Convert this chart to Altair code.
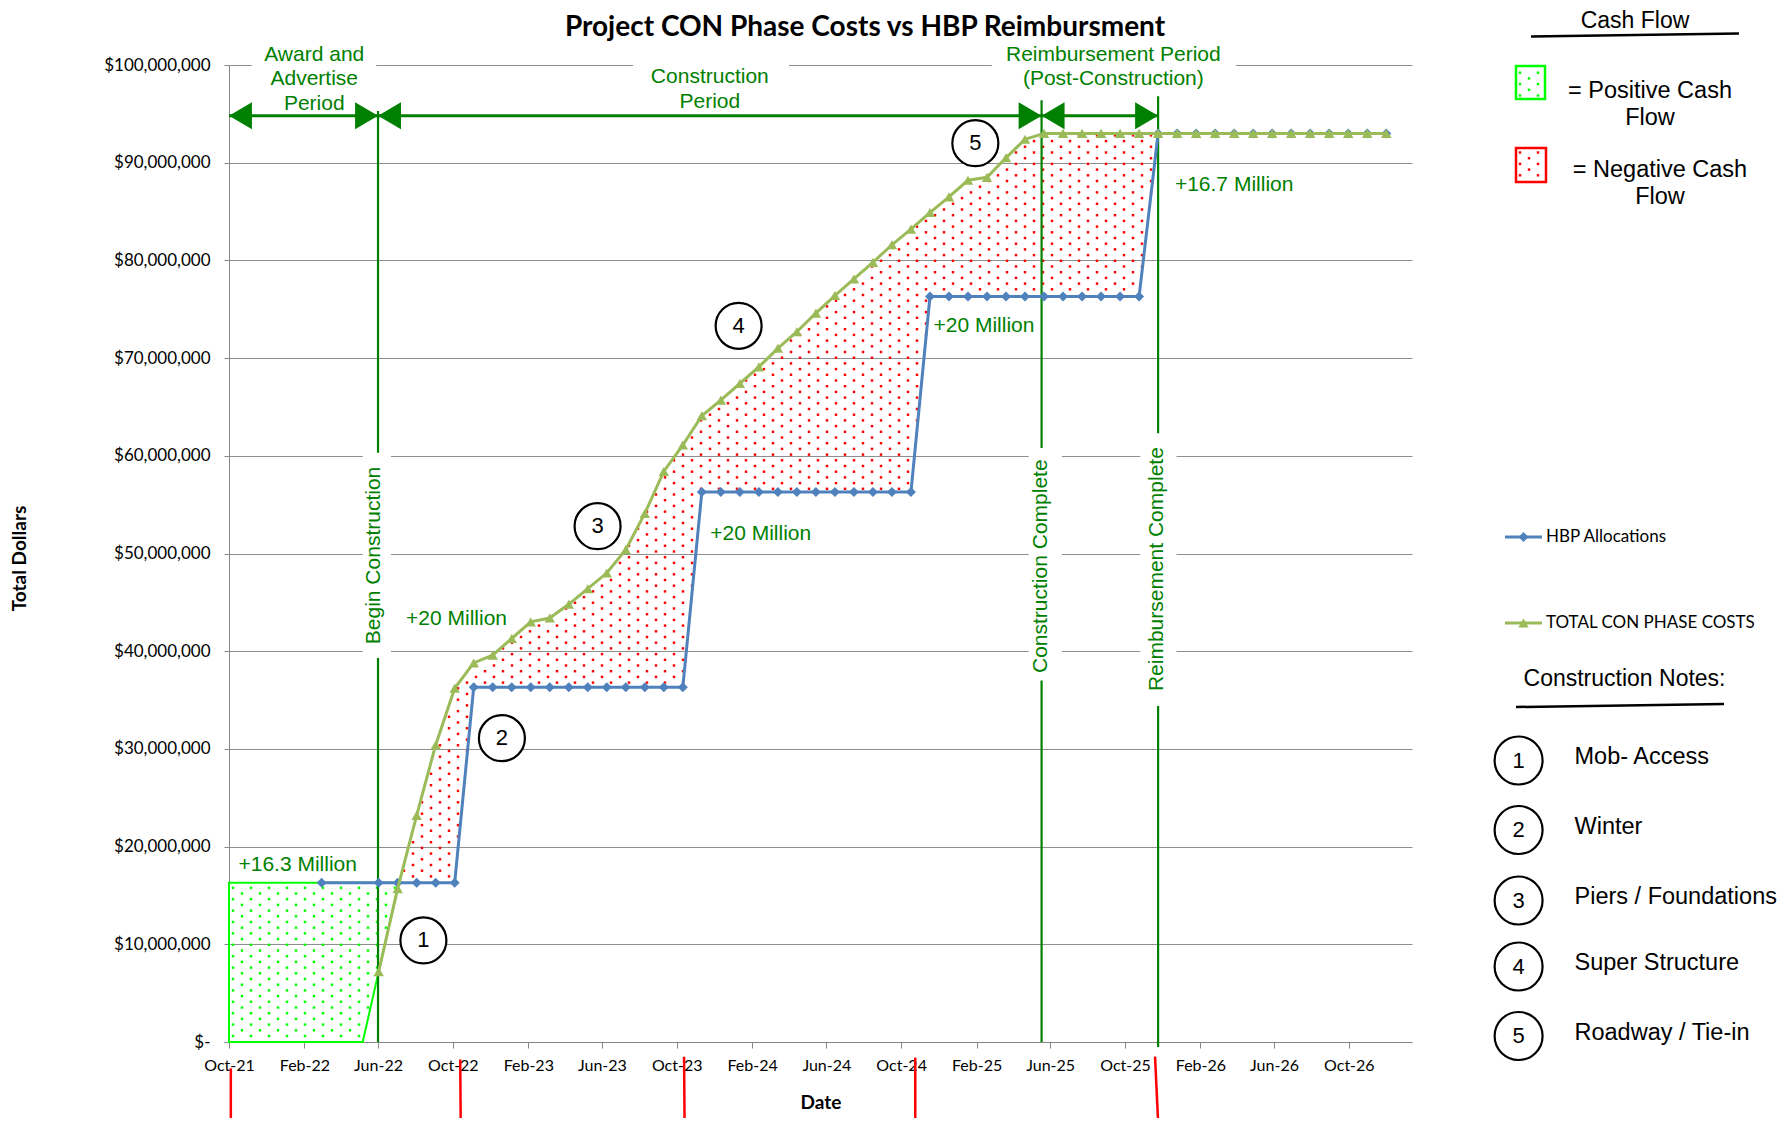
import altair as alt
import numpy as np
import pandas as pd

# ------------------------------------------------------------------ data
TITLE = "Project CON Phase Costs vs HBP Reimbursment"
X_TITLE = "Date"
Y_TITLE = "Total Dollars"
SERIES_NAMES = ["HBP Allocations", "TOTAL CON PHASE COSTS"]

AXIS_START = "2021-10-01"
AXIS_END = "2027-01-12"
X_TICKS = ["2021-10-01", "2022-02-01", "2022-06-01", "2022-10-01", "2023-02-01",
           "2023-06-01", "2023-10-01", "2024-02-01", "2024-06-01", "2024-10-01",
           "2025-02-01", "2025-06-01", "2025-10-01", "2026-02-01", "2026-06-01",
           "2026-10-01"]
Y_TICKS_M = [0, 10, 20, 30, 40, 50, 60, 70, 80, 90, 100]

POINT_DATES = [
    "2022-03-01", "2022-04-01", "2022-05-02", "2022-06-02", "2022-07-03", "2022-08-03",
    "2022-09-03", "2022-10-04", "2022-11-04", "2022-12-05", "2023-01-05", "2023-02-05",
    "2023-03-08", "2023-04-08", "2023-05-09", "2023-06-09", "2023-07-10", "2023-08-10",
    "2023-09-10", "2023-10-11", "2023-11-11", "2023-12-12", "2024-01-12", "2024-02-12",
    "2024-03-14", "2024-04-14", "2024-05-15", "2024-06-15", "2024-07-16", "2024-08-16",
    "2024-09-16", "2024-10-17", "2024-11-17", "2024-12-18", "2025-01-18", "2025-02-18",
    "2025-03-21", "2025-04-21", "2025-05-22", "2025-06-22", "2025-07-23", "2025-08-23",
    "2025-09-23", "2025-10-24", "2025-11-24", "2025-12-25", "2026-01-25", "2026-02-25",
    "2026-03-28", "2026-04-28", "2026-05-29", "2026-06-29", "2026-07-30", "2026-08-30",
    "2026-09-30", "2026-10-31", "2026-12-01",
]
# HBP Allocations ($M)
HBP_M = [
    16.3, None, None, 16.3, 16.3, 16.3,
    16.3, 16.3, 36.3, 36.3, 36.3, 36.3,
    36.3, 36.3, 36.3, 36.3, 36.3, 36.3,
    36.3, 36.3, 56.3, 56.3, 56.3, 56.3,
    56.3, 56.3, 56.3, 56.3, 56.3, 56.3,
    56.3, 56.3, 76.3, 76.3, 76.3, 76.3,
    76.3, 76.3, 76.3, 76.3, 76.3, 76.3,
    76.3, 76.3, 93.0, 93.0, 93.0, 93.0,
    93.0, 93.0, 93.0, 93.0, 93.0, 93.0,
    93.0, 93.0, 93.0,
]
# TOTAL CON PHASE COSTS ($M)
TOTAL_M = [
    None, None, None, 7.2, 15.7, 23.2,
    30.4, 36.2, 38.8, 39.6, 41.3, 43.0,
    43.4, 44.8, 46.4, 48.0, 50.4, 54.1,
    58.4, 61.1, 64.1, 65.7, 67.4, 69.1,
    71.0, 72.7, 74.6, 76.4, 78.1, 79.8,
    81.6, 83.2, 84.9, 86.5, 88.2, 88.5,
    90.5, 92.4, 93.0, 93.0, 93.0, 93.0,
    93.0, 93.0, 93.0, 93.0, 93.0, 93.0,
    93.0, 93.0, 93.0, 93.0, 93.0, 93.0,
    93.0, 93.0, 93.0,
]

# positive cash flow shape (before construction)
POS_DATES = ["2021-10-01", "2022-05-07", "2022-07-05"]
POS_TOP_M = [16.3, 16.3, 16.3]
POS_BOTTOM_M = [0.0, 0.0, 16.3]

# milestones
MILESTONE_LABELS = ["Begin Construction", "Construction Complete", "Reimbursement Complete"]
MILESTONE_DATES = ["2022-06-01", "2025-05-18", "2025-11-24"]
MILESTONE_TOP_M = [95.3, 96.4, 96.8]
MILESTONE_BOTTOM_M = [0.0, 0.0, -0.5]
MILESTONE_TEXT_DATES = ["2022-05-26", "2025-05-17", "2025-11-22"]
MILESTONE_TEXT_M = [49.8, 48.7, 48.4]
MILESTONE_BOX_X0 = ["2022-05-07", "2025-04-27", "2025-10-26"]
MILESTONE_BOX_X1 = ["2022-06-22", "2025-06-20", "2025-12-24"]
MILESTONE_BOX_Y0_M = [39.3, 37.0, 34.4]
MILESTONE_BOX_Y1_M = [60.3, 60.8, 62.3]

# period arrows and labels
ARROW_M = 94.8
ARROW_LEFT_TIPS = ["2021-10-01", "2022-06-01", "2025-05-18"]
ARROW_RIGHT_TIPS = ["2022-06-01", "2025-05-18", "2025-11-24"]
PERIOD_LABELS = ["Award and\nAdvertise\nPeriod", "Construction\nPeriod",
                 "Reimbursement Period\n(Post-Construction)"]
PERIOD_DATES = ["2022-02-17", "2023-11-24", "2025-09-12"]
PERIOD_M = [101.06, 98.73, 101.06]
PERIOD_BOX_X0 = ["2021-11-07", "2023-07-22", "2025-02-26"]
PERIOD_BOX_X1 = ["2022-05-29", "2024-04-01", "2026-03-31"]
PERIOD_BOX_Y0_M = [97.2, 97.0, 97.3]
PERIOD_BOX_Y1_M = [104.6, 103.0, 104.0]

# allocation step labels
STEP_LABELS = ["+16.3 Million", "+20 Million", "+20 Million", "+20 Million", "+16.7 Million"]
STEP_DATES = ["2022-01-21", "2022-10-07", "2024-02-15", "2025-02-13", "2026-03-28"]
STEP_M = [18.1, 43.3, 52.0, 73.3, 87.7]

# construction notes
NOTE_NUMBERS = ["1", "2", "3", "4", "5"]
NOTE_LABELS = ["Mob- Access", "Winter", "Piers / Foundations", "Super Structure",
               "Roadway / Tie-in"]
NOTE_DATES = ["2022-08-14", "2022-12-20", "2023-05-25", "2024-01-10", "2025-01-30"]
NOTE_M = [10.4, 31.1, 52.8, 73.3, 92.0]

# red reimbursement marks under the axis
RMARK_TOP_DATES = ["2021-10-04", "2022-10-13", "2023-10-13", "2024-10-24", "2025-11-19"]
RMARK_BOTTOM_DATES = ["2021-10-04", "2022-10-14", "2023-10-14", "2024-10-24", "2025-11-25"]
RMARK_TOP_M = [-2.7, -1.8, -1.5, -1.6, -1.5]
RMARK_BOTTOM_M = [-9.5, -9.5, -9.5, -9.5, -9.5]

CASH_TITLE = "Cash Flow"
CASH_LABELS = ["= Positive Cash\nFlow", "= Negative Cash\nFlow"]
NOTES_TITLE = "Construction Notes:"

# ------------------------------------------------------------------ styling / geometry
W, H = 1183, 977
PAD = {"left": 221, "top": 57, "right": 365, "bottom": 76}
BLUE = "#4F81BD"
GREEN = "#9BBB59"
DKGREEN = "#008000"
LIME = "#00FF00"
RED = "#FF0000"
GRID = "#8f8f8f"
CAL = "Lato, Carlito, Calibri, sans-serif"
ARIAL = "Liberation Sans, Arial, sans-serif"
M = 1e6

X0 = pd.Timestamp(AXIS_START)
X1 = pd.Timestamp(AXIS_END)
SPAN_DAYS = (X1 - X0) / pd.Timedelta(days=1)
PX_PER_DAY = W / SPAN_DAYS
PX_PER_DOLLAR = H / (Y_TICKS_M[-1] * M)


def tdays(s):
    return (pd.Timestamp(s) - X0) / pd.Timedelta(days=1)


def iso(days):
    return (X0 + pd.Timedelta(days=float(days))).strftime("%Y-%m-%dT%H:%M:%SZ")


def px_date(x):
    return iso(x / PX_PER_DAY)


def px_val(y):
    return (H - y) / PX_PER_DOLLAR


def dt(s):
    ts = pd.Timestamp(s)
    return alt.DateTime(year=ts.year, month=ts.month, date=ts.day, utc=True)


XS = alt.Scale(type="utc", domain=[dt(AXIS_START), dt(AXIS_END)])
YS = alt.Scale(domain=[0, Y_TICKS_M[-1] * M], nice=False, zero=False)

XAXIS = alt.Axis(values=[dt(s) for s in X_TICKS],
                 labelExpr="utcFormat(datum.value, '%b-%y')",
                 grid=False, domainColor="#868686", tickColor="#868686", tickSize=6,
                 labelFont=CAL, labelFontSize=16, labelColor="black", labelPadding=9,
                 labelFlush=False, labelOverlap=False,
                 title=X_TITLE, titleFont=CAL, titleFontSize=19, titleFontWeight="bold",
                 titleColor="black", titleY=60, titleBaseline="middle")
YAXIS = alt.Axis(values=[v * M for v in Y_TICKS_M],
                 labelExpr="datum.value == 0 ? '$-' : '$' + format(datum.value, ',')",
                 grid=True, gridColor=GRID, gridWidth=1,
                 domainColor="#868686", tickColor="#868686", tickSize=5,
                 labelFont=CAL, labelFontSize=17, labelColor="black", labelPadding=14,
                 title=Y_TITLE, titleFont=CAL, titleFontSize=19, titleFontWeight="bold",
                 titleColor="black", titleX=-210, titleY=493, titleBaseline="middle")


def X(field="date"):
    return alt.X(f"{field}:T", scale=XS, axis=XAXIS)


def Y(field="value"):
    return alt.Y(f"{field}:Q", scale=YS, axis=YAXIS)


# ------------------------------------------------------------------ series tables
blue_df = pd.DataFrame({"date": [d for d, v in zip(POINT_DATES, HBP_M) if v is not None],
                        "value": [v * M for v in HBP_M if v is not None]})
green_df = pd.DataFrame({"date": [d for d, v in zip(POINT_DATES, TOTAL_M) if v is not None],
                         "value": [v * M for v in TOTAL_M if v is not None]})

blue_t = np.array([tdays(d) for d in blue_df["date"]])
blue_v = blue_df["value"].to_numpy()
green_t = np.array([tdays(d) for d in green_df["date"]])
green_v = green_df["value"].to_numpy()
reimb_t = tdays(MILESTONE_DATES[2])

# dotted fill pattern (pixel pattern anchored on the plot)
DOT_DX, DOT_DY = 18.0, 5.7


def dot_pattern(x_lo, x_hi, y_lo, y_hi, inside):
    out_d, out_v = [], []
    r0 = int(np.floor(y_lo / DOT_DY)) - 1
    r1 = int(np.ceil(y_hi / DOT_DY)) + 1
    for r in range(r0, r1 + 1):
        y = r * DOT_DY + 2
        off = (r % 2) * DOT_DX / 2
        c0 = int(np.floor((x_lo - off) / DOT_DX)) - 1
        c1 = int(np.ceil((x_hi - off) / DOT_DX)) + 1
        for c in range(c0, c1 + 1):
            x = c * DOT_DX + off + 4
            if not (x_lo <= x <= x_hi and y_lo <= y <= y_hi):
                continue
            d = x / PX_PER_DAY
            v = (H - y) / PX_PER_DOLLAR
            if inside(d, v):
                out_d.append(iso(d))
                out_v.append(v)
    return pd.DataFrame({"date": out_d, "value": out_v})


def in_red(t, v):
    if t < green_t[0] or t > reimb_t:
        return False
    b = np.interp(t, blue_t, blue_v)
    g = np.interp(t, green_t, green_v)
    return b + 0.2 * M < v < g - 0.2 * M


pos_t0, pos_t1 = tdays(POS_DATES[1]), tdays(POS_DATES[2])


def in_green(t, v):
    top = POS_TOP_M[0] * M
    if v <= 0.3 * M or v >= top - 0.3 * M or t <= 2:
        return False
    edge = pos_t0 + (v / top) * (pos_t1 - pos_t0)
    return t < edge - 2


red_dots = dot_pattern(0, W, 0, H, in_red)
green_dots = dot_pattern(0, W, 0, H, in_green)

# ------------------------------------------------------------------ plot layers
pos_df = pd.DataFrame({"date": POS_DATES, "top": [v * M for v in POS_TOP_M],
                       "bottom": [v * M for v in POS_BOTTOM_M]})
pos_area = alt.Chart(pos_df).mark_area(fill="white", fillOpacity=0, stroke=LIME,
                                        strokeWidth=2, opacity=1).encode(
    x=X(), y=Y("top"), y2=alt.Y2("bottom"))

green_dot_layer = alt.Chart(green_dots).mark_square(size=6, color=LIME, opacity=1).encode(x=X(), y=Y())
red_dot_layer = alt.Chart(red_dots).mark_square(size=6, color=RED, opacity=1).encode(x=X(), y=Y())

ms_df = pd.DataFrame({"date": MILESTONE_DATES, "y0": [v * M for v in MILESTONE_BOTTOM_M],
                      "y1": [v * M for v in MILESTONE_TOP_M]})
ms_lines = alt.Chart(ms_df).mark_rule(color=DKGREEN, strokeWidth=2.2).encode(
    x=X(), y=Y("y0"), y2=alt.Y2("y1"))

shaft_df = pd.DataFrame({"x0": [ARROW_LEFT_TIPS[0]], "x1": [ARROW_RIGHT_TIPS[-1]],
                         "value": [ARROW_M * M]})
shaft = alt.Chart(shaft_df).mark_rule(color=DKGREEN, strokeWidth=3).encode(
    x=X("x0"), x2=alt.X2("x1"), y=Y())
left_heads = alt.Chart(pd.DataFrame({"date": ARROW_LEFT_TIPS, "value": [ARROW_M * M] * 3})).mark_point(
    shape="M0,0 L1.7,-1 L1.7,1 Z", filled=True, size=729, color=DKGREEN, opacity=1,
    strokeWidth=0).encode(x=X(), y=Y())
right_heads = alt.Chart(pd.DataFrame({"date": ARROW_RIGHT_TIPS, "value": [ARROW_M * M] * 3})).mark_point(
    shape="M0,0 L-1.7,-1 L-1.7,1 Z", filled=True, size=729, color=DKGREEN, opacity=1,
    strokeWidth=0).encode(x=X(), y=Y())

blue_line = alt.Chart(blue_df).mark_line(color=BLUE, strokeWidth=3).encode(x=X(), y=Y())
blue_pts = alt.Chart(blue_df).mark_point(shape="diamond", filled=True, size=100, color=BLUE,
                                         opacity=1).encode(x=X(), y=Y())
green_line = alt.Chart(green_df).mark_line(color=GREEN, strokeWidth=3).encode(x=X(), y=Y())
green_pts = alt.Chart(green_df).mark_point(shape="triangle-up", filled=True, size=110, color=GREEN,
                                           opacity=1).encode(x=X(), y=Y())

box_df = pd.DataFrame({
    "x0": PERIOD_BOX_X0 + MILESTONE_BOX_X0,
    "x1": PERIOD_BOX_X1 + MILESTONE_BOX_X1,
    "y0": [v * M for v in PERIOD_BOX_Y0_M + MILESTONE_BOX_Y0_M],
    "y1": [v * M for v in PERIOD_BOX_Y1_M + MILESTONE_BOX_Y1_M],
})
boxes = alt.Chart(box_df).mark_rect(color="white", opacity=1).encode(
    x=X("x0"), x2=alt.X2("x1"), y=Y("y0"), y2=alt.Y2("y1"))

period_text = alt.Chart(pd.DataFrame({"date": PERIOD_DATES, "value": [v * M for v in PERIOD_M],
                                      "label": PERIOD_LABELS})).mark_text(
    font=ARIAL, fontSize=21, color=DKGREEN, lineBreak="\n", lineHeight=24.5,
    align="center", baseline="middle").encode(x=X(), y=Y(), text="label:N")

step_text = alt.Chart(pd.DataFrame({"date": STEP_DATES, "value": [v * M for v in STEP_M],
                                    "label": STEP_LABELS})).mark_text(
    font=ARIAL, fontSize=21, color=DKGREEN, align="center", baseline="middle").encode(
    x=X(), y=Y(), text="label:N")

ms_text = alt.Chart(pd.DataFrame({"date": MILESTONE_TEXT_DATES,
                                  "value": [v * M for v in MILESTONE_TEXT_M],
                                  "label": MILESTONE_LABELS})).mark_text(
    font=ARIAL, fontSize=21, color=DKGREEN, angle=270, align="center",
    baseline="middle").encode(x=X(), y=Y(), text="label:N")

note_df = pd.DataFrame({"date": NOTE_DATES, "value": [v * M for v in NOTE_M], "num": NOTE_NUMBERS})
note_circles = alt.Chart(note_df).mark_point(shape="circle", size=2116, filled=True, fill="white",
                                             stroke="black", strokeWidth=2.2, opacity=1).encode(
    x=X(), y=Y())
note_nums = alt.Chart(note_df).mark_text(font=ARIAL, fontSize=22, color="black", align="center",
                                         baseline="middle").encode(x=X(), y=Y(), text="num:N")

rmark_df = pd.DataFrame({"x0": RMARK_TOP_DATES, "x1": RMARK_BOTTOM_DATES,
                         "y0": [v * M for v in RMARK_TOP_M], "y1": [v * M for v in RMARK_BOTTOM_M]})
rmarks = alt.Chart(rmark_df).mark_rule(color=RED, strokeWidth=2.5).encode(
    x=X("x0"), x2=alt.X2("x1"), y=Y("y0"), y2=alt.Y2("y1"))

# ------------------------------------------------------------------ title and side legend (pixel placed)
title = alt.Chart(pd.DataFrame({"date": [px_date(636)], "value": [px_val(-29)], "t": [TITLE]})).mark_text(
    font=CAL, fontSize=28, fontWeight="bold", color="black", align="center",
    baseline="alphabetic").encode(x=X(), y=Y(), text="t:N")

cash_title = alt.Chart(pd.DataFrame({"date": [px_date(1406), px_date(1395.5)],
                                     "value": [px_val(-44), px_val(613.5)],
                                     "t": [CASH_TITLE, NOTES_TITLE]})).mark_text(
    font=ARIAL, fontSize=23, color="black", align="center", baseline="middle").encode(
    x=X(), y=Y(), text="t:N")

underline_df = pd.DataFrame({"x0": [px_date(1302), px_date(1287)], "x1": [px_date(1510), px_date(1495)],
                             "y0": [px_val(-28.5), px_val(642)], "y1": [px_val(-31.5), px_val(639)]})
underlines = alt.Chart(underline_df).mark_rule(color="black", strokeWidth=2.5).encode(
    x=X("x0"), x2=alt.X2("x1"), y=Y("y0"), y2=alt.Y2("y1"))

SWATCHES = [(1287, 1, 1316, 34, LIME), (1287, 83, 1317, 117, RED)]
swatch_df = pd.DataFrame({"x0": [px_date(s[0]) for s in SWATCHES], "x1": [px_date(s[2]) for s in SWATCHES],
                          "y0": [px_val(s[1]) for s in SWATCHES], "y1": [px_val(s[3]) for s in SWATCHES],
                          "col": [s[4] for s in SWATCHES]})
swatches = alt.Chart(swatch_df).mark_rect(fill="white", strokeWidth=2.5, opacity=1).encode(
    x=X("x0"), x2=alt.X2("x1"), y=Y("y0"), y2=alt.Y2("y1"),
    stroke=alt.Stroke("col:N", scale=None))
sw_layers = []
for s in SWATCHES:
    sd = dot_pattern(s[0] + 3, s[2] - 3, s[1] + 3, s[3] - 3, lambda t, v: True)
    sw_layers.append(alt.Chart(sd).mark_square(size=6, color=s[4], opacity=1).encode(x=X(), y=Y()))

cash_text = alt.Chart(pd.DataFrame({"date": [px_date(1421), px_date(1431)],
                                    "value": [px_val(26), px_val(105)],
                                    "t": CASH_LABELS})).mark_text(
    font=ARIAL, fontSize=23.5, color="black", lineBreak="\n", lineHeight=27,
    align="center", baseline="middle").encode(x=X(), y=Y(), text="t:N")

leg_df = pd.DataFrame({"x0": [px_date(1276)] * 2, "x1": [px_date(1313)] * 2,
                       "xm": [px_date(1294.5)] * 2, "xt": [px_date(1317)] * 2,
                       "value": [px_val(472), px_val(558)], "col": [BLUE, GREEN],
                       "t": SERIES_NAMES})
leg_lines = alt.Chart(leg_df).mark_rule(strokeWidth=3).encode(
    x=X("x0"), x2=alt.X2("x1"), y=Y(), color=alt.Color("col:N", scale=None))
leg_diamond = alt.Chart(leg_df.iloc[[0]]).mark_point(shape="diamond", filled=True, size=100, color=BLUE,
                                                     opacity=1).encode(x=X("xm"), y=Y())
leg_tri = alt.Chart(leg_df.iloc[[1]]).mark_point(shape="triangle-up", filled=True, size=110, color=GREEN,
                                                 opacity=1).encode(x=X("xm"), y=Y())
leg_text = alt.Chart(leg_df).mark_text(font=CAL, fontSize=17, color="black", align="left",
                                       baseline="middle").encode(x=X("xt"), y=Y(), text="t:N")

NOTE_CIRCLE_Y = [695.5, 765, 835.5, 901.5, 971]
NOTE_TEXT_Y = [692, 761.5, 832, 898, 967.5]
side_notes = pd.DataFrame({"date": [px_date(1289.6)] * 5, "value": [px_val(y) for y in NOTE_CIRCLE_Y],
                           "xt": [px_date(1345.5)] * 5, "vt": [px_val(y) for y in NOTE_TEXT_Y],
                           "num": NOTE_NUMBERS, "t": NOTE_LABELS})
side_circles = alt.Chart(side_notes).mark_point(shape="circle", size=2300, filled=True, fill="white",
                                                stroke="black", strokeWidth=2.2, opacity=1).encode(
    x=X(), y=Y())
side_nums = alt.Chart(side_notes).mark_text(font=ARIAL, fontSize=22, color="black", align="center",
                                            baseline="middle").encode(x=X(), y=Y(), text="num:N")
side_text = alt.Chart(side_notes).mark_text(font=ARIAL, fontSize=23.5, color="black", align="left",
                                            baseline="middle").encode(x=X("xt"), y=Y("vt"), text="t:N")

chart = alt.layer(
    pos_area, green_dot_layer, red_dot_layer, ms_lines, shaft, left_heads, right_heads,
    blue_line, blue_pts, green_line, green_pts, boxes, period_text, step_text, ms_text,
    note_circles, note_nums, rmarks, title, cash_title, underlines, swatches, *sw_layers,
    cash_text, leg_lines, leg_diamond, leg_tri, leg_text, side_circles, side_nums, side_text,
).properties(
    width=W, height=H,
    autosize=alt.AutoSizeParams(type="none"),
    padding=PAD,
).configure_view(strokeWidth=0)

chart.save("out.html", embed_options={"renderer": "svg", "actions": False})
